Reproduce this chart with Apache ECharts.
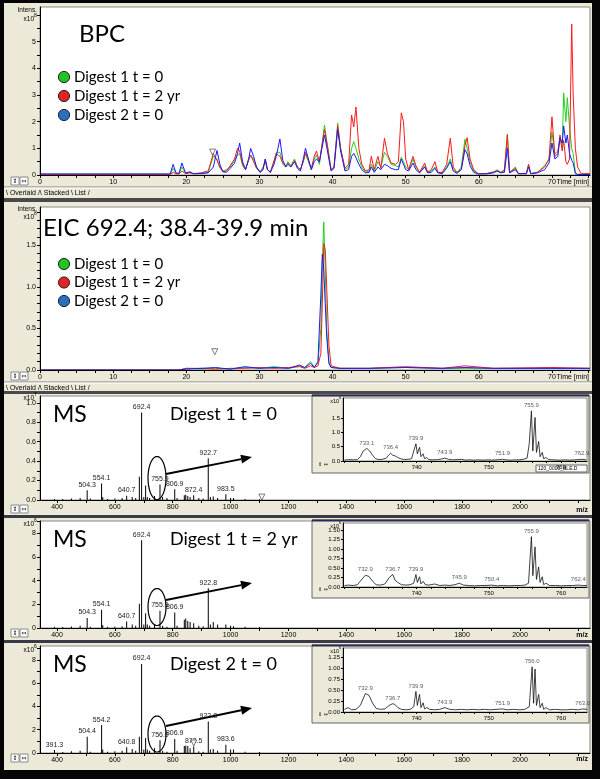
<!DOCTYPE html>
<html><head><meta charset="utf-8">
<script src="https://cdn.jsdelivr.net/npm/echarts@6/dist/echarts.min.js"></script>
<style>html,body{margin:0;padding:0;background:#000;}#c{width:600px;height:779px;}</style>
</head><body><div id="c"></div><script>
// ---------- BPC (x10^8) ----------
const bpcTime = [0,17.8,18.2,18.6,19.0,19.4,19.9,20.5,21.0,22.0,
 23.0,23.7,24.2,24.6,25.0,25.5,26.0,26.6,27.0,27.3,
 27.7,28.1,28.5,28.8,29.2,29.6,30.1,30.5,30.8,31.1,
 31.5,32.0,32.3,32.8,33.2,33.6,33.9,34.3,34.8,35.2,
 35.6,36.0,36.3,36.7,37.1,37.5,37.8,38.2,38.9,39.3,
 39.8,40.2,40.7,41.1,41.7,42.2,42.6,42.9,43.2,43.6,
 44.0,44.5,45.0,45.3,45.7,46.2,46.6,47.1,47.5,48.0,
 48.6,49.0,49.4,49.7,50.0,50.4,51.0,51.4,51.9,52.6,
 53.0,53.5,54.0,54.4,55.0,55.6,56.1,56.5,57.0,57.6,
 58.1,58.4,58.8,59.3,59.9,61.0,62.0,62.5,63.0,63.5,
 63.9,64.2,65.0,65.4,66.5,66.8,67.1,68.0,69.0,69.6,
 70.0,70.4,70.8,71.1,71.4,71.6,71.9,72.1,72.4,72.7,
 72.9,73.2,73.5,74.0,75.2];
const bpcD1t0 = [.03,.03,.25,.05,.05,.30,.06,.10,.04,.06,
 .10,.70,.60,.25,.15,.20,.30,.55,.75,.80,
 .35,.20,.60,.75,.60,.30,.12,.30,.50,.20,
 .12,.50,.85,.85,.40,.30,.50,.35,.60,.30,
 .20,.50,.80,.50,.20,.60,.75,.40,1.87,1.10,
 .20,.30,1.95,1.00,.20,.30,1.00,1.25,1.00,.60,
 .30,.10,.15,.40,.15,.50,.30,.85,.70,.40,
 .35,.30,.67,.50,.30,.20,.60,.30,.10,.35,
 .10,.15,.30,.10,.08,.30,.60,.20,.08,.30,
 1.34,1.00,.50,.15,.05,.05,.10,.20,.10,.15,
 1.54,.10,.30,.05,.05,.40,.05,.10,.35,.60,
 1.60,.80,.90,1.40,1.00,3.08,2.00,2.90,1.80,1.00,
 .80,.10,.03,.03,.03];
const bpcD1t2 = [.02,.02,.10,.04,.04,.15,.05,.08,.05,.08,
 .15,.80,.55,.30,.12,.15,.35,.60,1.00,.90,
 .40,.20,.55,.75,.50,.25,.10,.25,.60,.20,
 .10,.55,.80,.70,.45,.35,.45,.30,.55,.30,
 .20,.50,.85,.55,.25,.70,.90,.50,1.70,1.10,
 .20,.30,1.85,1.00,.25,.40,2.25,1.80,2.55,1.00,
 .40,.15,.20,.70,.20,.70,.25,1.38,.80,.45,
 .40,.50,2.33,2.00,.60,.20,.70,.35,.10,.45,
 .10,.20,.50,.10,.10,.40,1.38,.30,.10,.20,
 1.10,1.40,.60,.20,.05,.05,.12,.15,.10,.20,
 1.50,.10,.25,.05,.05,.40,.05,.10,.30,.60,
 2.18,.70,.80,1.50,.90,1.30,.50,.40,.60,5.66,
 3.00,1.00,.30,.05,.05];
const bpcD2t0 = [.04,.04,.40,.08,.06,.45,.08,.12,.05,.05,
 .08,.30,.92,.40,.12,.10,.25,.45,.80,1.20,
 .50,.20,.55,1.00,.70,.30,.10,.20,.60,.20,
 .10,.40,.70,1.35,.55,.30,.40,.30,.50,.25,
 .15,.60,1.00,.60,.20,.50,.60,.50,1.50,.90,
 .15,.25,1.70,.90,.15,.20,.70,.81,.65,.40,
 .20,.08,.10,.30,.10,.30,.20,.40,.35,.25,
 .20,.20,.60,.40,.20,.15,.45,.20,.08,.30,
 .08,.10,.25,.08,.05,.25,.50,.15,.06,.20,
 .95,.80,.35,.10,.04,.04,.08,.15,.08,.10,
 1.00,.08,.20,.05,.05,.30,.05,.08,.20,.45,
 1.20,.60,.70,1.40,1.20,1.84,1.20,1.50,.80,.55,
 .45,.05,.02,.02,.02];
const bpcMarker = [[23.6, 0.86]];

// ---------- EIC 692.4 (x10^8) ----------
const eicTime = [0,19,20,22,24,26,28,30,32,34,35.5,36.2,37.0,37.5,38.0,38.4,38.6,38.8,39.0,39.2,39.5,39.8,41,45,50,55,58.1,62,70,75.2];
const eicD1t0 = [0,0,.02,.01,.02,.01,.03,.02,.04,.02,.05,.03,.10,.04,.08,.50,1.30,1.78,1.20,.50,.10,.03,.02,.02,.03,.02,.02,.02,.02,.02];
const eicD1t2 = [0,0,.02,.02,.01,.02,.02,.03,.02,.03,.04,.02,.05,.03,.05,.20,.80,1.52,1.45,1.00,.30,.05,.02,.02,.04,.02,.05,.02,.03,.02];
const eicD2t0 = [0,0,.01,.02,.03,.01,.04,.02,.03,.02,.06,.03,.08,.03,.10,.90,1.39,1.20,.80,.40,.08,.03,.02,.02,.03,.02,.03,.02,.02,.02];
const eicMarker = [[23.9, 0.22]];

// ---------- MS spectra ----------
const ms1Mz = [391,420,450,480,504.3,515,554.1,558,575,600,625,640.7,660,672,684.6,692.4,700,706.3,712,720,737,755.9,765,780,806.9,815,840,845,852,860,872.4,890,905,922.7,930,940,955,983.5,1000,1010,1050,1100];
const ms1Int = [.01,.01,.015,.02,.10,.015,.17,.03,.01,.015,.02,.045,.03,.02,.24,.90,.03,.15,.03,.02,.04,.16,.03,.02,.11,.02,.05,.055,.04,.03,.05,.02,.015,.43,.03,.035,.02,.06,.02,.02,.01,.008];
const ms1Labels = [504.3,554.1,640.7,692.4,755.9,806.9,872.4,922.7,983.5];
const ms1Marker = [[1108, 0.03]];

const ms2Mz = [391,420,450,480,504.3,515,554.1,558,575,600,625,640.7,660,672,684.6,692.4,700,706.3,712,720,737,755.9,765,780,806.9,815,840,845,852,860,872.4,890,905,922.8,930,940,955,983.5,1000,1010,1050,1100];
const ms2Int = [.10,.08,.12,.20,.85,.10,1.55,.25,.10,.10,.15,.55,.30,.20,2.05,7.40,.30,1.25,.30,.20,.30,1.45,.20,.10,1.30,.20,.70,.80,.60,.50,.40,.20,.15,3.35,.30,.50,.30,.30,.20,.15,.10,.08];
const ms2Labels = [504.3,554.1,640.7,692.4,755.9,806.9,922.8];

const ms3Mz = [391.3,420,450,480,504.4,515,554.2,558,575,600,625,640.8,660,672,684.6,692.4,700,706.3,712,720,737,756.0,765,780,806.9,815,840,845,852,860,872.5,890,905,922.8,930,940,955,983.6,1000,1010,1050,1100];
const ms3Int = [.25,.08,.15,.20,1.40,.10,2.40,.30,.10,.15,.20,.50,.35,.20,1.40,7.65,.30,1.30,.30,.20,.40,1.10,.20,.10,1.20,.20,.60,.65,.60,.40,.55,.15,.10,2.70,.30,.35,.20,.70,.30,.30,.10,.08];
const ms3Labels = [391.3,504.4,554.2,640.8,692.4,756.0,806.9,872.5,922.8,983.6];
const ms3Marker = [[872.5, 0.86]];

// ---------- Insets (x10^6) ----------
const in1Mz = [730.0,730.6,731.2,731.8,732.2,732.6,733.1,733.5,733.9,734.3,
 734.8,735.3,735.8,736.1,736.4,736.7,737.0,737.4,737.8,738.3,
 738.8,739.3,739.6,739.9,740.1,740.4,740.6,740.9,741.1,741.4,
 741.7,742.3,742.9,743.5,743.9,744.4,745.0,745.6,746.2,746.8,
 747.4,748.0,748.6,749.2,749.8,750.4,751.0,751.5,751.9,752.4,
 753.0,753.6,754.2,754.8,755.3,755.6,755.9,756.1,756.4,756.6,
 756.9,757.1,757.4,757.6,757.9,758.3,759.0,759.8,760.5,761.2,
 761.9,762.5,762.9,763.5];
const in1Int = [.03,.05,.04,.05,.15,.35,.44,.35,.20,.08,
 .05,.06,.10,.20,.27,.20,.18,.12,.08,.05,
 .06,.08,.35,.60,.25,.48,.15,.25,.08,.12,
 .05,.04,.05,.07,.10,.06,.04,.05,.06,.03,
 .04,.03,.04,.03,.04,.03,.04,.05,.06,.04,
 .03,.04,.04,.06,.10,.60,1.75,.35,1.52,.30,
 .68,.15,.30,.08,.12,.05,.04,.03,.04,.03,
 .04,.05,.06,.04];
const in1Labels = [733.1,736.4,739.9,743.9,751.9,755.9,762.9];

const in2Mz = [730.0,730.6,731.2,731.8,732.3,732.9,733.4,733.9,734.4,735.0,
 735.6,736.2,736.4,736.7,737.0,737.4,737.9,738.5,739.1,739.6,
 739.9,740.1,740.4,740.6,740.9,741.2,741.7,742.5,743.2,743.9,
 744.6,745.3,745.9,746.5,747.2,748.0,748.8,749.6,750.4,751.2,
 752.0,752.8,753.6,754.4,755.0,755.5,755.9,756.1,756.4,756.6,
 756.9,757.1,757.4,757.6,757.9,758.4,759.2,760.0,760.8,761.6,
 762.4,763.0,763.6];
const in2Int = [.04,.05,.04,.06,.18,.31,.28,.15,.06,.05,
 .08,.25,.20,.33,.18,.12,.06,.05,.06,.10,
 .33,.12,.27,.08,.15,.06,.05,.08,.04,.05,
 .04,.06,.10,.05,.04,.03,.04,.04,.05,.03,
 .04,.03,.04,.04,.05,.10,1.33,.30,1.06,.20,
 .53,.12,.27,.06,.10,.04,.04,.03,.04,.04,
 .05,.04,.04];
const in2Labels = [732.9,736.7,739.9,745.9,750.4,755.9,762.4];

const in3Mz = [730.0,730.5,731.0,731.6,732.2,732.9,733.4,733.9,734.4,735.0,
 735.6,736.2,736.7,737.0,737.4,737.9,738.5,739.1,739.6,739.9,
 740.1,740.4,740.6,740.9,741.1,741.4,741.8,742.5,743.2,743.9,
 744.6,745.4,746.2,747.0,747.8,748.6,749.4,750.2,751.0,751.9,
 752.6,753.4,754.2,755.0,755.6,756.0,756.2,756.4,756.6,756.9,
 757.1,757.4,757.6,757.9,758.4,759.2,760.0,760.8,761.6,762.4,
 763.0,763.6];
const in3Int = [.06,.10,.05,.06,.15,.42,.38,.20,.08,.06,
 .07,.15,.19,.17,.10,.06,.05,.06,.12,.47,
 .15,.40,.10,.21,.07,.10,.06,.05,.06,.10,
 .06,.05,.06,.05,.06,.05,.06,.05,.06,.07,
 .05,.06,.05,.06,.12,1.03,.20,.98,.15,.40,
 .10,.20,.06,.10,.05,.06,.05,.05,.06,.05,
 .07,.06];
const in3Labels = [732.9,736.7,739.9,743.9,751.9,756.0,763.0];

// ---------- tick labels ----------
const timeLabels = [0,10,20,30,40,50,60,70];
const timeTicks = [0,2.5,5,7.5,10,12.5,15,17.5,20,22.5,25,27.5,30,32.5,35,37.5,40,42.5,45,47.5,50,52.5,55,57.5,60,62.5,65,67.5,70,72.5,75];
const bpcYLabels = [0,1,2,3,4,5];
const bpcYTicks = [0,0.5,1,1.5,2,2.5,3,3.5,4,4.5,5,5.5,6];
const eicYLabels = [0,0.5,1.0,1.5];
const eicYTicks = [0,0.1,0.2,0.3,0.4,0.5,0.6,0.7,0.8,0.9,1.0,1.1,1.2,1.3,1.4,1.5,1.6,1.7,1.8,1.9];
const mzLabels = [400,600,800,1000,1200,1400,1600,1800,2000];
const mzTicks = [400,500,600,700,800,900,1000,1100,1200,1300,1400,1500,1600,1700,1800,1900,2000,2100,2200];
const ms1YLabels = [0,0.2,0.4,0.6,0.8,1.0];
const ms1YTicks = [0,0.1,0.2,0.3,0.4,0.5,0.6,0.7,0.8,0.9,1.0];
const ms23YLabels = [0,2,4,6,8];
const ms23YTicks = [0,1,2,3,4,5,6,7,8,9];
const inXLabels = [740,750,760];
const inXTicks = [730,732,734,736,738,740,742,744,746,748,750,752,754,756,758,760,762];
const in1YLabels = [0,0.5,1.0,1.5];
const in2YLabels = [0,0.25,0.5,0.75,1.0,1.25,1.5];
const in3YLabels = [0,0.25,0.5,0.75,1.0,1.25];

// ---------- layout ----------
const grids = [
 {left:40, top:7, width:550, height:168},
 {left:40, top:207, width:550, height:163},
 {left:40, top:396, width:550, height:104},
 {left:40, top:521, width:550, height:107},
 {left:40, top:646, width:550, height:107},
 {left:343, top:398, width:244, height:63},
 {left:343, top:523, width:244, height:64},
 {left:343, top:648, width:244, height:64}
];
const AXF = 'Liberation Sans';
function ax(pos, gi, min, max, labels, ticks, fmt, fs, tl) {
 return {type:'value', gridIndex:gi, position:pos, min, max, z:5,
  axisLine:{show:true, onZero:false, lineStyle:{color:'#000', width:1}},
  axisTick:{show:true, length:tl||3, customValues:ticks, lineStyle:{color:'#000', width:1}},
  axisLabel:{show:true, customValues:labels, formatter:fmt, margin:tl?3:4, fontSize:fs||7, color:'#000', fontFamily:AXF},
  splitLine:{show:false}};
}
const f0 = v => String(v), f1 = v => v.toFixed(1), f2 = v => v.toFixed(2);
const xAxis = [
 ax('bottom',0,0,75.2,timeLabels,timeTicks,f0),
 ax('bottom',1,0,75.2,timeLabels,timeTicks,f0),
 ax('bottom',2,341.3,2241.9,mzLabels,mzTicks,f0),
 ax('bottom',3,341.3,2241.9,mzLabels,mzTicks,f0),
 ax('bottom',4,341.3,2241.9,mzLabels,mzTicks,f0),
 ax('bottom',5,729.8,763.6,inXLabels,inXTicks,f0,6,2),
 ax('bottom',6,729.8,763.6,inXLabels,inXTicks,f0,6,2),
 ax('bottom',7,729.8,763.6,inXLabels,inXTicks,f0,6,2)
];
const yAxis = [
 ax('left',0,0,6.3,bpcYLabels,bpcYTicks,f0),
 ax('left',1,0,1.96,eicYLabels,eicYTicks,f1),
 ax('left',2,0,1.07,ms1YLabels,ms1YTicks,f1),
 ax('left',3,0,9.03,ms23YLabels,ms23YTicks,f0),
 ax('left',4,0,9.2,ms23YLabels,ms23YTicks,f0),
 ax('left',5,0,2.2,in1YLabels,in1YLabels,f1,6,2),
 ax('left',6,0,1.69,in2YLabels,in2YLabels,f2,6,2),
 ax('left',7,0,1.46,in3YLabels,in3YLabels,f2,6,2)
];

const GREEN='#1fd21f', RED='#ff1a1a', BLUE='#1a1aff';
const pairs = (xs, ys) => xs.map((x,i)=>[x, ys[i]]);
function trace(gi, xs, ys, color) {
 return {type:'line', xAxisIndex:gi, yAxisIndex:gi, data:pairs(xs,ys), showSymbol:false, symbol:'none',
  lineStyle:{color, width:1}, itemStyle:{color}, silent:true, animation:false};
}
function sticks(gi, xs, ys, labels) {
 return {type:'bar', xAxisIndex:gi, yAxisIndex:gi, barWidth:1, silent:true, animation:false,
  itemStyle:{color:'#000'},
  data: xs.map((x,i)=>({value:[x, ys[i]], label:{show: labels.includes(x)}})),
  label:{position:'top', distance:2, fontSize:7, color:'#222', fontFamily:AXF, formatter:p=>p.value[0].toFixed(1)}};
}
function profile(gi, xs, ys, labels) {
 return [
  {type:'line', xAxisIndex:gi, yAxisIndex:gi, data:pairs(xs,ys), showSymbol:false, symbol:'none',
   lineStyle:{color:'#111', width:0.8}, silent:true, animation:false},
  {type:'scatter', xAxisIndex:gi, yAxisIndex:gi, symbolSize:1, itemStyle:{color:'rgba(0,0,0,0)'}, silent:true, animation:false,
   data: labels.map(m=>[m, ys[xs.indexOf(m)]]),
   label:{show:true, position:'top', distance:2, fontSize:6, color:'#333', fontFamily:AXF, formatter:p=>p.value[0].toFixed(1)}}
 ];
}
function markers(gi, pts) {
 return {type:'scatter', xAxisIndex:gi, yAxisIndex:gi, data:pts, symbol:'triangle', symbolRotate:180, symbolSize:6,
  itemStyle:{color:'#fff', borderColor:'#333', borderWidth:0.8}, silent:true, animation:false};
}
const series = [
 trace(0,bpcTime,bpcD1t0,GREEN), trace(0,bpcTime,bpcD1t2,RED), trace(0,bpcTime,bpcD2t0,BLUE), markers(0,bpcMarker),
 trace(1,eicTime,eicD1t0,GREEN), trace(1,eicTime,eicD1t2,RED), trace(1,eicTime,eicD2t0,BLUE), markers(1,eicMarker),
 sticks(2,ms1Mz,ms1Int,ms1Labels), markers(2,ms1Marker),
 sticks(3,ms2Mz,ms2Int,ms2Labels),
 sticks(4,ms3Mz,ms3Int,ms3Labels), markers(4,ms3Marker),
 ...profile(5,in1Mz,in1Int,in1Labels),
 ...profile(6,in2Mz,in2Int,in2Labels),
 ...profile(7,in3Mz,in3Int,in3Labels)
];

// ---------- window chrome & annotations ----------
const GR = [];
const PANEL = '#ece9d8';
function R(x,y,w,h,fill,stroke,z,lw){GR.push({type:'rect',z:z===undefined?-3:z,silent:true,shape:{x,y,width:w,height:h},style:{fill:fill||'none',stroke:stroke||'none',lineWidth:lw||1}});}
function T(x,y,s,size,o){o=o||{};GR.push({type:'text',z:o.z===undefined?10:o.z,silent:true,x,y,style:{text:s,font:(o.weight||'normal')+' '+size+'px '+(o.family||'Lato'),fill:o.fill||'#000',textAlign:o.align||'left',textVerticalAlign:o.va||'middle'}});}
function L(x1,y1,x2,y2,stroke,lw,z){GR.push({type:'line',z:z===undefined?-1:z,silent:true,shape:{x1,y1,x2,y2},style:{stroke,lineWidth:lw||1}});}
function C(cx,cy,r,fill){GR.push({type:'circle',z:10,silent:true,shape:{cx,cy,r},style:{fill,stroke:'#222',lineWidth:1}});}
function ellipse(cx,cy,rx,ry){const pts=[];for(let i=0;i<48;i++){const a=i/48*2*Math.PI;pts.push([cx+rx*Math.cos(a),cy+ry*Math.sin(a)]);}
 GR.push({type:'polygon',z:10,silent:true,shape:{points:pts},style:{fill:'none',stroke:'#000',lineWidth:1.2}});}
function arrow(x1,y1,x2,y2){const dx=x2-x1,dy=y2-y1,d=Math.hypot(dx,dy),ux=dx/d,uy=dy/d,hl=11,hw=4.5;
 const bx=x2-ux*hl,by=y2-uy*hl;
 GR.push({type:'line',z:10,silent:true,shape:{x1,y1,x2:bx,y2:by},style:{stroke:'#000',lineWidth:1.8}});
 GR.push({type:'polygon',z:10,silent:true,shape:{points:[[x2,y2],[bx-uy*hw,by+ux*hw],[bx+uy*hw,by-ux*hw]]},style:{fill:'#000'}});}
function exp(xr,y,base,p,size){T(xr,y,base,size||6.5,{align:'right',family:AXF,z:6});T(xr,y-3,p,(size||6.5)-1.5,{align:'left',family:AXF,z:6});}
function tools(y){R(11,y-4,8,8,'#fff','#888',-2);R(20,y-4,8,8,'#fff','#888',-2);T(15,y,'\u21D5',6,{align:'center',family:'DejaVu Sans',z:6});T(24,y,'\u21D4',6,{align:'center',family:'DejaVu Sans',z:6});}

// panels
R(4,3,588,195,PANEL); R(4,198,588,4,'#4a4a4a');
R(4,202,588,189,PANEL); R(4,391,588,3,'#4a4a4a');
R(4,394,588,121,PANEL); R(4,515,588,3,'#3a3a46');
R(4,518,588,122,PANEL); R(4,640,588,3,'#3a3a46');
R(4,643,588,127,PANEL);
// main plot areas
grids.slice(0,5).forEach(g=>R(g.left,g.top,g.width,g.height,'#fff','#8a8a8a',-2));
// tab bars for chromatograms
[[187,193],[382,388]].forEach(([ly,ty])=>{L(4,ly,592,ly,'#808080',1,-1);L(4,ly+1,592,ly+1,'#fff',1,-1);
 T(6,ty,'\\ Overlaid /\\ Stacked \\ List /',7,{family:AXF,z:6});});
tools(181); tools(376); tools(509); tools(633); tools(758);
// axis exponents / titles
T(37,10,'Intens.',6.5,{align:'right',family:AXF,z:6}); exp(34,19,'x10','8');
T(37,209,'Intens.',6.5,{align:'right',family:AXF,z:6}); exp(34,217,'x10','8');
exp(34,398,'x10','7'); exp(34,524,'x10','6'); exp(34,650,'x10','6');
T(589,182,'Time [min]',7,{family:AXF,z:6,align:'right'}); T(589,377,'Time [min]',7,{family:AXF,z:6,align:'right'});
T(588,510,'m/z',7,{family:AXF,z:6,weight:'bold',align:'right'}); T(588,635,'m/z',7,{family:AXF,z:6,weight:'bold',align:'right'}); T(588,759,'m/z',7,{family:AXF,z:6,weight:'bold',align:'right'});
// insets frames
[[395,5],[520,6],[645,7]].forEach(([fy,gi])=>{const g=grids[gi];
 R(312,fy,277,78,PANEL,'#666',-1); L(312,fy+0.5,589,fy+0.5,'#2a2a55',2,-1);
 R(g.left,g.top,g.width,g.height,'#fff','#8a8a8a',-1);
 T(318,fy+70,'\u21D5 \u21D4',5,{family:'DejaVu Sans',z:6});
});
R(536,465,51,7,'#fff','#666',0); T(538,468.5,'120_0006_BLE.D',5,{family:AXF,z:6});
exp(339,401,'x10','6',5.5); exp(339,526,'x10','6',5.5); exp(339,651,'x10','6',5.5);

// big labels & legends
T(79,34,'BPC',24);
T(43,228,'EIC 692.4; 38.4-39.9 min',24);
const legendNames = ['Digest 1 t = 0','Digest 1 t = 2 yr','Digest 2 t = 0'];
const legendColors = ['#22c322','#e3231f','#2a6fc0'];
[[77,96,115],[264,282.5,301]].forEach(ys=>ys.forEach((y,i)=>{C(64,y,5.6,legendColors[i]);T(74,y,legendNames[i],15);}));
T(53,415,'MS',23); T(170,414,'Digest 1 t = 0',18);
T(53,540,'MS',23); T(170,539,'Digest 1 t = 2 yr',18);
T(53,665,'MS',23); T(170,664,'Digest 2 t = 0',18);
ellipse(157,478,9,21.5); arrow(166,474,252,457);
ellipse(157,607,9,18.5); arrow(166,600,252,583);
ellipse(157,734,9,18); arrow(166,726,252,708);

const chart = echarts.init(document.getElementById('c'), null, {renderer:'canvas', width:600, height:779});
chart.setOption({backgroundColor:'#050505', animation:false, grid:grids.map(g=>Object.assign({containLabel:false, show:false}, g)),
 xAxis, yAxis, series, graphic:{elements:GR}});
</script></body></html>
